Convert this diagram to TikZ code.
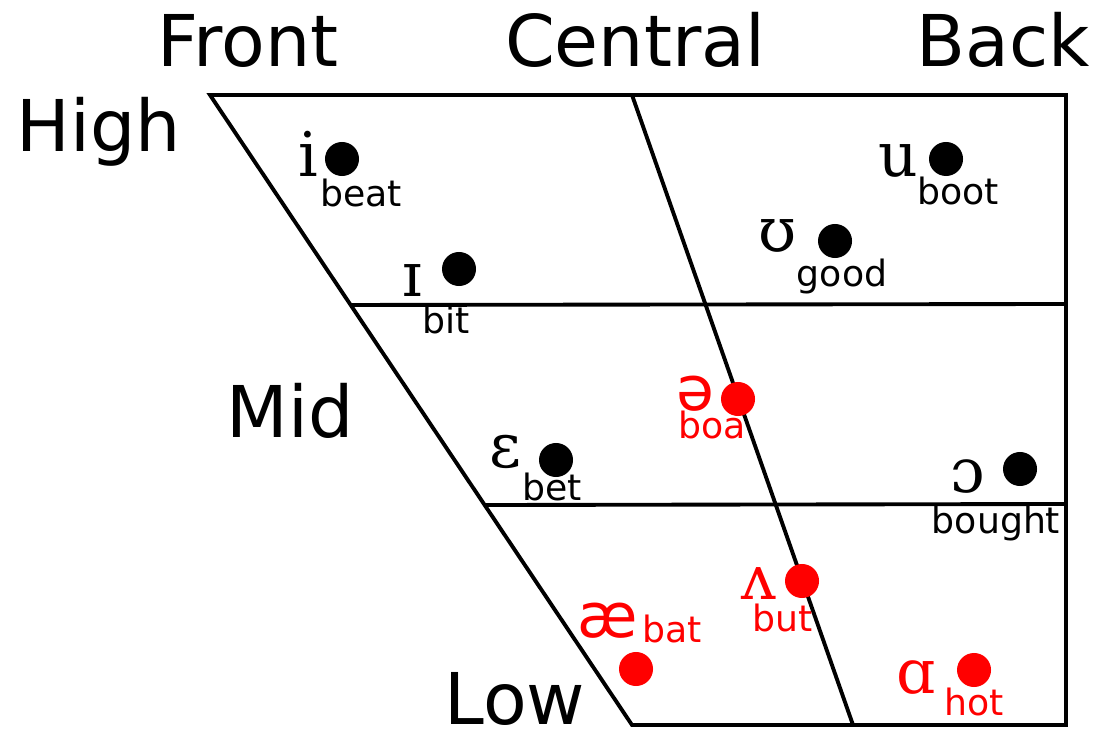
\documentclass[tikz,border=0pt]{standalone}
\usepackage{fontspec}
\usetikzlibrary{calc}
\setmainfont{DejaVu Sans}
\newfontfamily\ipaserif{DejaVu Serif}
\newfontfamily\ipasans{DejaVu Sans}
\tikzset{
    axis/.style={font=\fontsize{20.3pt}{24pt}\selectfont, anchor=base, inner sep=0pt},
    sym/.style={font=\fontsize{17.5pt}{20pt}\selectfont\ipaserif, anchor=base, inner sep=0pt},
    symsans/.style={font=\fontsize{17.5pt}{20pt}\selectfont\ipasans, anchor=base, inner sep=0pt},
    word/.style={font=\fontsize{10.3pt}{12pt}\selectfont, anchor=base, inner sep=0pt},
    dot/.style={circle, fill, inner sep=0pt, minimum size=0.34cm},
}
\begin{document}
\begin{tikzpicture}[x=0.01cm, y=-0.01cm, line width=1.1pt]
    \useasboundingbox (0,0) rectangle (1101,731);
    % chart frame
    \coordinate (tl) at (210,95);
    \coordinate (tr) at (1066,95);
    \coordinate (br) at (1066,725);
    \coordinate (bl) at (632,725);
    \coordinate (ct) at (632,95);
    \coordinate (cb) at (853,725);
    \draw (tl) -- (tr) -- (br) -- (bl) -- cycle;
    \draw (ct) -- (cb);
    \draw ($(tl)!0.3333!(bl)$) -- (1066,304);
    \draw ($(tl)!0.6508!(bl)$) -- (1066,504);
    % axis labels
    \node[axis] (front) at (248,67) {Front};
    \node[axis] (central) at (635,67) {Central};
    \node[axis] (back) at (1003,67) {Back};
    \node[axis] (high) at (99,152) {High};
    \node[axis] (mid) at (290,438) {Mid};
    \node[axis] (low) at (515,724) {Low};
    % black vowels
    \node[sym] (i) at (308,177) {i};
    \node[dot] (i-dot) at (342,159) {};
    \node[word] (beat) at (361,207) {beat};
    \node[sym] (I) at (412,297) {ɪ};
    \node[dot] (I-dot) at (459,269) {};
    \node[word] (bit) at (446,334) {bit};
    \node[sym] (u) at (898,177) {u};
    \node[dot] (u-dot) at (946,159) {};
    \node[word] (boot) at (958,205) {boot};
    \node[sym] (U) at (778,252) {ʊ};
    \node[dot] (U-dot) at (835,241) {};
    \node[word] (good) at (842,287) {good};
    \node[sym] (E) at (505,467) {ɛ};
    \node[dot] (E-dot) at (556,460) {};
    \node[word] (bet) at (552,500) {bet};
    \node[sym] (O) at (968,492) {ɔ};
    \node[dot] (O-dot) at (1020,469) {};
    \node[word] (bought) at (996,533) {bought};
    % red vowels
    \begin{scope}[red]
        \node[symsans] (schwa) at (695,410) {ə};
        \node[dot] (schwa-dot) at (738,399) {};
        \node[word] (boa) at (712,439) {boa};
        \node[sym] (V) at (759,599) {ʌ};
        \node[dot] (V-dot) at (802,581) {};
        \node[word] (but) at (783,631) {but};
        \node[symsans] (ae) at (608,637) {æ};
        \node[dot] (ae-dot) at (636,669) {};
        \node[word] (bat) at (672,642) {bat};
        \node[sym] (A) at (916,693) {ɑ};
        \node[dot] (A-dot) at (974,670) {};
        \node[word] (hot) at (974,715) {hot};
    \end{scope}
\end{tikzpicture}
\end{document}
